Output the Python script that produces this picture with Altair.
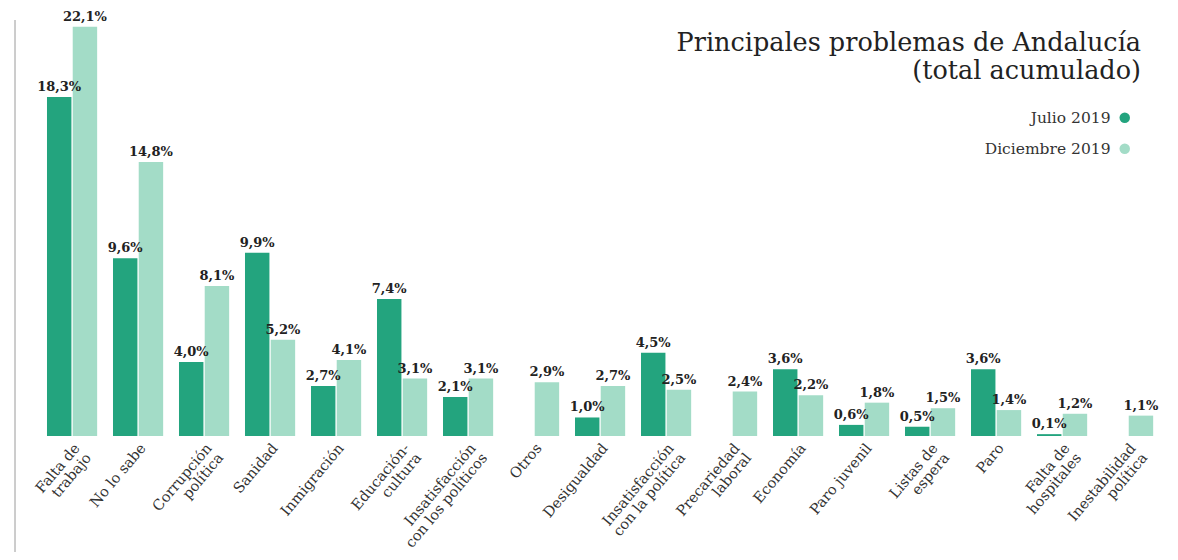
import altair as alt
import pandas as pd

categorias = [
    "Falta de|trabajo", "No lo sabe", "Corrupción|política", "Sanidad",
    "Inmigración", "Educación-|cultura", "Insatisfacción|con los políticos",
    "Otros", "Desigualdad", "Insatisfacción|con la política",
    "Precariedad|laboral", "Economía", "Paro juvenil", "Listas de|espera",
    "Paro", "Falta de|hospitales", "Inestabilidad|política",
]
julio_2019 = [18.3, 9.6, 4.0, 9.9, 2.7, 7.4, 2.1, None, 1.0, 4.5, None,
              3.6, 0.6, 0.5, 3.6, 0.1, None]
diciembre_2019 = [22.1, 14.8, 8.1, 5.2, 4.1, 3.1, 3.1, 2.9, 2.7, 2.5, 2.4,
                  2.2, 1.8, 1.5, 1.4, 1.2, 1.1]
series = ["Julio 2019", "Diciembre 2019"]
colores = ["#23a47e", "#a3dcc7"]

rows = []
for cat, j, d in zip(categorias, julio_2019, diciembre_2019):
    for serie, v in zip(series, [j, d]):
        if v is None:
            continue
        rows.append({
            "categoria": cat,
            "serie": serie,
            "valor": v,
            "etiqueta": f"{v:.1f}%".replace(".", ","),
        })
df = pd.DataFrame(rows)

serif = "DejaVu Serif"

x_enc = alt.X(
    "categoria:N",
    sort=categorias,
    scale=alt.Scale(paddingInner=0.24, paddingOuter=0.332, align=0.73),
    axis=alt.Axis(
        title=None, ticks=False, domain=False, grid=False,
        labelAngle=-50, labelAlign="right", labelBaseline="top",
        labelExpr="split(datum.label, '|')",
        labelFont=serif, labelFontSize=14.5, labelColor="#333",
        labelLineHeight=15, labelPadding=5, labelLimit=300,
    ),
)
xoff_enc = alt.XOffset("serie:N", sort=series,
                       scale=alt.Scale(paddingInner=0.05, paddingOuter=0))
y_enc = alt.Y("valor:Q", scale=alt.Scale(domain=[0, 23], nice=False), axis=None)

base = alt.Chart(df)

bars = base.mark_bar().encode(
    x=x_enc,
    xOffset=xoff_enc,
    y=y_enc,
    color=alt.Color(
        "serie:N",
        sort=series,
        scale=alt.Scale(domain=series, range=colores),
        legend=alt.Legend(
            title=None, orient="none", legendX=1102, legendY=100,
            symbolType="circle", symbolSize=110, symbolStrokeWidth=0,
            labelFont=serif, labelFontSize=15.5, labelColor="#333",
            labelAlign="right", labelOffset={"expr": "-22"}, rowPadding=14,
        ),
    ),
)

labels = base.mark_text(
    font=serif, fontWeight="bold", fontSize=13, color="#222",
    baseline="alphabetic", dy=-6,
).encode(
    x=x_enc,
    xOffset=xoff_enc,
    y=y_enc,
    text="etiqueta:N",
)

eje = alt.Chart(pd.DataFrame({"a": [0]})).mark_rule(
    color="#9a9a9a", strokeWidth=1
).encode(x=alt.value(0), y=alt.value(10), y2=alt.value(545))

chart = alt.layer(eje, bars, labels).properties(
    width=1150,
    height=426,
    autosize=alt.AutoSizeParams(type="none"),
    padding={"left": 7, "top": 2, "right": 5, "bottom": 116},
    title=alt.TitleParams(
        text=["Principales problemas de Andalucía", "(total acumulado)"],
        anchor="end", frame="group", orient="top", offset=0,
        font=serif, fontSize=25.5, fontWeight="normal", color="#222",
        lineHeight=28, baseline="top", dx=-24, dy=74,
    ),
).configure(background="white").configure_view(stroke=None, strokeWidth=0)

chart.save("out.html", embed_options={"renderer": "svg", "actions": False})
